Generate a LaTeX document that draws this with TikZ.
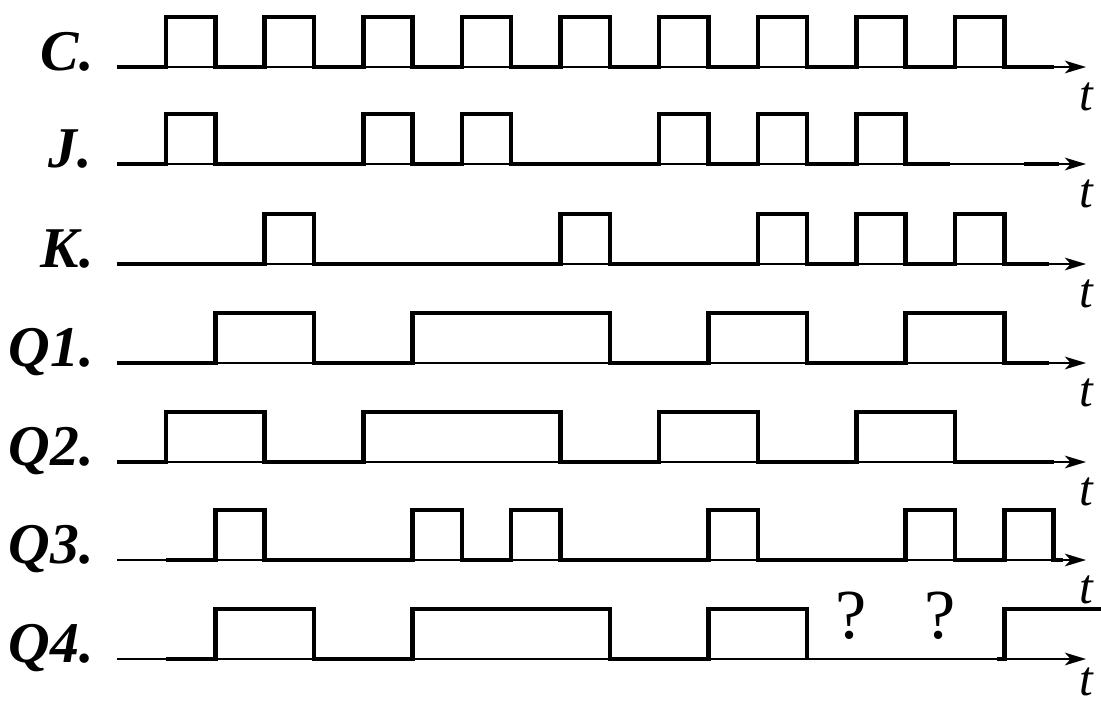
\documentclass[tikz,border=0pt]{standalone}
\usepackage{fontspec}
\setmainfont{Liberation Serif}
\usetikzlibrary{arrows.meta}
\tikzstyle{axis} = [line width=1.4pt, -{Stealth[length=15pt, width=9pt, inset=4pt]}]
\tikzstyle{signal} = [line width=3.2pt, line join=miter]
\tikzstyle{siglabel} = [inner sep=0pt, anchor=base east, 
font=\fontsize{41}{44}\selectfont\bfseries\itshape]
\tikzstyle{tlabel} = [inner sep=0pt, anchor=base, 
font=\fontsize{35}{38}\selectfont\itshape]
\tikzstyle{unknown} = [inner sep=0pt, anchor=base, 
font=\fontsize{50}{54}\selectfont]

\begin{document}
\begin{tikzpicture}[x=0.025cm, y=-0.025cm]
        \useasboundingbox (0,0) rectangle (1101,704);

        % signal names
        \node (lC) [siglabel] at (94,70) {C.};
        \node (lJ) [siglabel] at (92,167) {J.};
        \node (lK) [siglabel] at (94,267) {K.};
        \node (lQ1) [siglabel] at (94,366) {Q1.};
        \node (lQ2) [siglabel] at (94,465) {Q2.};
        \node (lQ3) [siglabel] at (94,563) {Q3.};
        \node (lQ4) [siglabel] at (94,662) {Q4.};

        % time axes
        \coordinate (aC) at (117,67);  \coordinate (zC) at (1086,67);
        \coordinate (aJ) at (117,164); \coordinate (zJ) at (1086,164);
        \coordinate (aK) at (117,264); \coordinate (zK) at (1086,264);
        \coordinate (aQ1) at (117,363); \coordinate (zQ1) at (1086,363);
        \coordinate (aQ2) at (117,462); \coordinate (zQ2) at (1086,462);
        \coordinate (aQ3) at (117,560); \coordinate (zQ3) at (1086,560);
        \coordinate (aQ4) at (117,659); \coordinate (zQ4) at (1086,659);

        \draw [axis] (aC) -- (zC);
        \draw [axis] (aJ) -- (zJ);
        \draw [axis] (aK) -- (zK);
        \draw [axis] (aQ1) -- (zQ1);
        \draw [axis] (aQ2) -- (zQ2);
        \draw [axis] (aQ3) -- (zQ3);
        \draw [axis] (aQ4) -- (zQ4);

        \node (tC) [tlabel] at (1086,110) {t};
        \node (tJ) [tlabel] at (1086,207) {t};
        \node (tK) [tlabel] at (1086,307) {t};
        \node (tQ1) [tlabel] at (1086,406) {t};
        \node (tQ2) [tlabel] at (1086,505) {t};
        \node (tQ3) [tlabel] at (1086,603) {t};
        \node (tQ4) [tlabel] at (1086,695) {t};

        % waveforms, x counted in half periods of C
        \begin{scope}[shift={(166,0)}, x=1.2325cm]
        \draw [signal] (-1,67) -- (0,67) |- (1,17) |- (2,67) |- (3,17) |- (4,67) |- (5,17) |- (6,67) |- (7,17) |- (8,67) |- (9,17) |- (10,67) |- (11,17) |- (12,67) |- (13,17) |- (14,67) |- (15,17) |- (16,67) |- (17,17) |- (18,67);
        \draw [signal] (-1,164) -- (0,164) |- (1,114) |- (4,164) |- (5,114) |- (6,164) |- (7,114) |- (10,164) |- (11,114) |- (12,164) |- (13,114) |- (14,164) |- (15,114) |- (15.9,164);
        \draw [signal] (17.4,164) -- (18.1,164);
        \draw [signal] (-1,264) -- (2,264) |- (3,214) |- (8,264) |- (9,214) |- (12,264) |- (13,214) |- (14,264) |- (15,214) |- (16,264) |- (17,214) |- (17.9,264);
        \draw [signal] (-1,363) -- (1,363) |- (3,313) |- (5,363) |- (9,313) |- (11,363) |- (13,313) |- (15,363) |- (17,313) |- (17.9,363);
        \draw [signal] (-1,462) -- (0,462) |- (2,412) |- (4,462) |- (8,412) |- (10,462) |- (12,412) |- (14,462) |- (16,412) |- (18,462);
        \draw [signal] (0,560) -- (1,560) |- (2,510) |- (5,560) |- (6,510) |- (7,560) |- (8,510) |- (11,560) |- (12,510) |- (15,560) |- (16,510) |- (17,560) |- (18,510) |- (18.2,560);
        \draw [signal] (0,659) -- (1,659) |- (3,609) |- (5,659) |- (9,609) |- (11,659) |- (13,609) -- (13,659);
        \draw [signal] (16.85,659) -- (17,659) |- (19,609);
        \end{scope}

        \node (u1) [unknown] at (851,638) {?};
        \node (u2) [unknown] at (940,638) {?};

\end{tikzpicture}
\end{document}
